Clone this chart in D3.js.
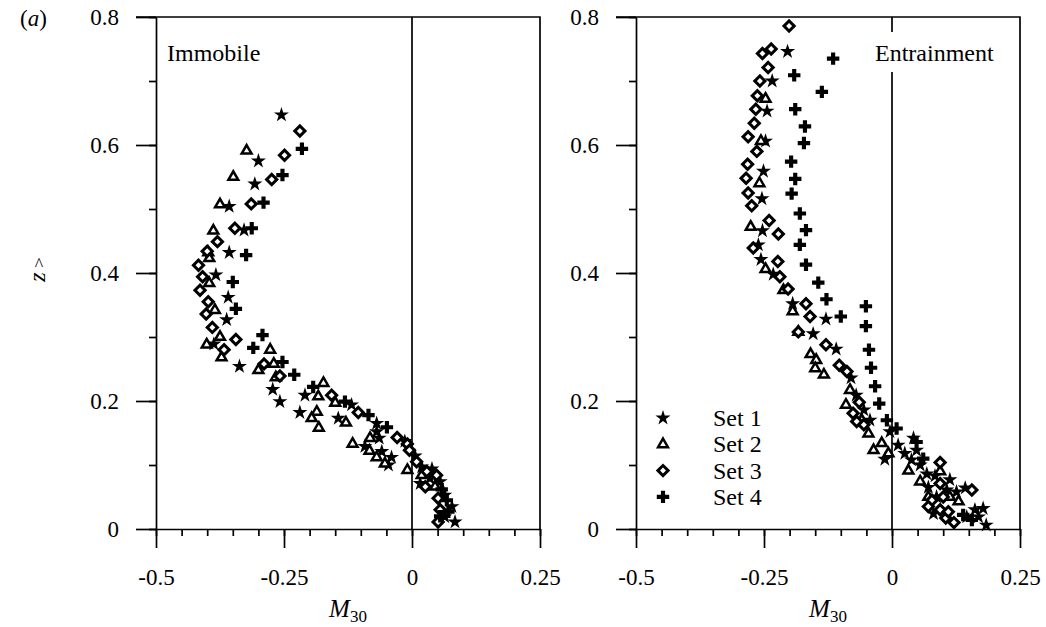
<!DOCTYPE html>
<meta charset="utf-8">
<style>

body {
  margin: 0;
  background: #fff;
}

text {
  font-family: "Liberation Serif", "Times New Roman", serif;
  fill: #000;
}

.axis path, .axis line {
  stroke: #000;
  stroke-width: 1.7px;
}

.frame {
  stroke: #000;
  stroke-width: 1.7px;
  fill: none;
}

</style>
<svg width=1046 height=627></svg>
<script src='https://cdn.jsdelivr.net/npm/d3@7/dist/d3.min.js'></script>
<script>

// x = M30, y = z-hat
const immobileSet1 = [[-0.255,0.647],[-0.300,0.575],[-0.307,0.539],[-0.357,0.504],[-0.328,0.467],[-0.357,0.432],[-0.383,0.397],[-0.359,0.362],[-0.362,0.327],[-0.387,0.289],[-0.337,0.254],[-0.272,0.218],[-0.258,0.199],[-0.209,0.209],[-0.219,0.182],[-0.144,0.173],[-0.118,0.194],[-0.069,0.165],[-0.069,0.152],[-0.064,0.142],[-0.092,0.129],[-0.059,0.121],[-0.040,0.112],[-0.046,0.100],[-0.014,0.137],[0.006,0.114],[0.019,0.097],[0.039,0.094],[0.016,0.071],[0.035,0.079],[0.055,0.074],[0.064,0.053],[0.078,0.035],[0.064,0.019],[0.084,0.011]];
const immobileSet2 = [[-0.323,0.591],[-0.349,0.550],[-0.375,0.507],[-0.388,0.466],[-0.398,0.432],[-0.396,0.423],[-0.396,0.384],[-0.385,0.342],[-0.375,0.300],[-0.401,0.288],[-0.372,0.268],[-0.277,0.280],[-0.300,0.248],[-0.270,0.258],[-0.266,0.237],[-0.173,0.228],[-0.183,0.207],[-0.150,0.197],[-0.186,0.183],[-0.196,0.173],[-0.129,0.166],[-0.182,0.158],[-0.082,0.142],[-0.116,0.133],[-0.083,0.122],[-0.069,0.112],[-0.053,0.102],[-0.009,0.092],[0.019,0.084],[0.045,0.066]];
const immobileSet3 = [[-0.219,0.622],[-0.249,0.584],[-0.274,0.546],[-0.314,0.508],[-0.346,0.470],[-0.380,0.449],[-0.400,0.434],[-0.417,0.412],[-0.409,0.394],[-0.414,0.373],[-0.398,0.355],[-0.402,0.336],[-0.390,0.315],[-0.344,0.296],[-0.367,0.280],[-0.289,0.258],[-0.258,0.239],[-0.157,0.209],[-0.105,0.182],[-0.029,0.143],[-0.009,0.133],[-0.005,0.123],[0.009,0.105],[0.029,0.090],[0.048,0.084],[0.026,0.066],[0.051,0.048],[0.055,0.030],[0.051,0.011]];
const immobileSet4 = [[-0.215,0.594],[-0.253,0.553],[-0.290,0.510],[-0.313,0.470],[-0.324,0.428],[-0.350,0.386],[-0.344,0.344],[-0.292,0.303],[-0.310,0.283],[-0.253,0.261],[-0.230,0.241],[-0.193,0.222],[-0.131,0.199],[-0.085,0.178],[-0.049,0.159],[0.058,0.062],[0.068,0.045],[0.071,0.027],[0.055,0.020]];

const entrainSet1 = [[-0.204,0.746],[-0.234,0.700],[-0.244,0.653],[-0.247,0.606],[-0.251,0.559],[-0.254,0.516],[-0.253,0.466],[-0.261,0.444],[-0.256,0.421],[-0.232,0.398],[-0.194,0.352],[-0.129,0.328],[-0.154,0.305],[-0.109,0.281],[-0.080,0.236],[-0.070,0.209],[-0.055,0.186],[-0.043,0.170],[-0.004,0.152],[-0.014,0.109],[0.012,0.131],[0.042,0.142],[0.025,0.118],[0.048,0.123],[0.038,0.108],[0.055,0.100],[0.068,0.086],[0.084,0.083],[0.113,0.077],[0.071,0.065],[0.087,0.050],[0.107,0.061],[0.126,0.058],[0.143,0.064],[0.081,0.024],[0.146,0.019],[0.178,0.032],[0.169,0.019],[0.184,0.006],[0.162,0.030]];
const entrainSet2 = [[-0.247,0.672],[-0.256,0.606],[-0.259,0.540],[-0.276,0.472],[-0.247,0.406],[-0.212,0.373],[-0.194,0.340],[-0.183,0.308],[-0.159,0.273],[-0.148,0.264],[-0.150,0.251],[-0.133,0.241],[-0.082,0.217],[-0.090,0.194],[-0.059,0.170],[-0.046,0.149],[-0.036,0.123],[-0.020,0.134],[-0.007,0.118],[0.032,0.091],[0.055,0.074],[0.094,0.090],[0.071,0.050],[0.113,0.050],[0.130,0.043]];
const entrainSet3 = [[-0.201,0.786],[-0.236,0.750],[-0.253,0.743],[-0.242,0.721],[-0.258,0.700],[-0.263,0.677],[-0.266,0.656],[-0.269,0.634],[-0.281,0.613],[-0.264,0.590],[-0.282,0.570],[-0.285,0.548],[-0.281,0.525],[-0.274,0.505],[-0.240,0.482],[-0.222,0.461],[-0.271,0.439],[-0.223,0.418],[-0.219,0.394],[-0.203,0.375],[-0.168,0.352],[-0.160,0.332],[-0.183,0.308],[-0.129,0.288],[-0.103,0.256],[-0.088,0.246],[-0.064,0.198],[-0.076,0.181],[-0.069,0.168],[-0.055,0.163],[0.094,0.104],[0.094,0.071],[0.078,0.045],[0.156,0.061],[0.071,0.035],[0.094,0.030],[0.105,0.017],[0.121,0.010],[0.110,0.027],[0.100,0.050]];
const entrainSet4 = [[-0.115,0.735],[-0.191,0.709],[-0.137,0.683],[-0.189,0.656],[-0.170,0.629],[-0.172,0.603],[-0.197,0.574],[-0.189,0.547],[-0.196,0.524],[-0.180,0.493],[-0.168,0.467],[-0.180,0.444],[-0.168,0.413],[-0.144,0.385],[-0.128,0.359],[-0.100,0.332],[-0.051,0.348],[-0.051,0.317],[-0.045,0.280],[-0.041,0.252],[-0.033,0.223],[-0.025,0.196],[-0.010,0.170],[0.009,0.157],[0.048,0.136],[0.061,0.110],[0.139,0.022],[0.156,0.014]];

const setNames = ["Set 1", "Set 2", "Set 3", "Set 4"];
const xMajorTicks = [-0.5, -0.25, 0, 0.25];
const xTickLabels = ["-0.5", "-0.25", "0", "0.25"];
const yMajorTicks = [0, 0.2, 0.4, 0.6, 0.8];
const yTickLabels = ["0", "0.2", "0.4", "0.6", "0.8"];
const xMinorTicks = d3.range(-0.5, 0.2501, 0.05);
const yMinorTicks = d3.range(0, 0.8001, 0.1);

const plotTop = 17, plotBottom = 529;
const serif = '"Liberation Serif", "Times New Roman", serif';
const panels = [
  {left: 156, right: 540, label: "Immobile", labelX: 167, sets: [immobileSet1, immobileSet2, immobileSet3, immobileSet4]},
  {left: 636, right: 1020, label: "Entrainment", labelX: 875, sets: [entrainSet1, entrainSet2, entrainSet3, entrainSet4], legend: true}
];

const svg = d3.select("svg");

// marker shapes: star, open triangle, open diamond, filled cross
const markers = [
  {path: d3.symbol().type(d3.symbolStar).size(70)(), fill: "#000", stroke: "none", sw: 0, rot: 0},
  {path: d3.symbol().type(d3.symbolTriangle).size(42)(), fill: "#fff", stroke: "#000", sw: 2.5, rot: 0},
  {path: d3.symbol().type(d3.symbolSquare).size(52)(), fill: "#fff", stroke: "#000", sw: 3, rot: 45},
  {path: d3.symbol().type(d3.symbolCross).size(86)(), fill: "#000", stroke: "none", sw: 0, rot: 0}
];

function drawMarker(g, i, x, y) {
  const m = markers[i];
  g.append("path")
    .attr("d", m.path)
    .attr("transform", "translate(" + x + "," + y + ") rotate(" + m.rot + ")")
    .attr("fill", m.fill)
    .attr("stroke", m.stroke)
    .attr("stroke-width", m.sw)
    .attr("stroke-linejoin", "miter");
}

panels.forEach(p => {
  const x = d3.scaleLinear().domain([-0.5, 0.25]).range([p.left, p.right]);
  const y = d3.scaleLinear().domain([0, 0.8]).range([plotBottom, plotTop]);
  const g = svg.append("g");

  // minor ticks
  g.append("g").attr("class", "axis")
    .attr("transform", "translate(0," + plotBottom + ")")
    .call(d3.axisBottom(x).tickValues(xMinorTicks).tickSize(7).tickSizeOuter(0).tickFormat(""))
    .select(".domain").remove();
  g.append("g").attr("class", "axis")
    .attr("transform", "translate(" + p.left + ",0)")
    .call(d3.axisLeft(y).tickValues(yMinorTicks).tickSize(7).tickSizeOuter(0).tickFormat(""))
    .select(".domain").remove();

  // major ticks
  const xa = g.append("g").attr("class", "axis")
    .attr("transform", "translate(0," + plotBottom + ")")
    .call(d3.axisBottom(x).tickValues(xMajorTicks).tickSize(19).tickSizeOuter(0)
      .tickFormat((d, i) => xTickLabels[i]));
  xa.selectAll("text").attr("y", 0).attr("dy", 0)
    .attr("transform", "translate(0,56)");
  const ya = g.append("g").attr("class", "axis")
    .attr("transform", "translate(" + p.left + ",0)")
    .call(d3.axisLeft(y).tickValues(yMajorTicks).tickSize(20).tickSizeOuter(0)
      .tickFormat((d, i) => yTickLabels[i]));
  ya.selectAll("text").attr("x", -37).attr("dy", "0.34em");
  g.selectAll(".axis").attr("font-family", serif).attr("font-size", 23);
  g.selectAll(".axis text").attr("fill", "#000").style("font-family", serif).style("font-size", "23px");

  // frame: top and right
  g.append("path").attr("class", "frame")
    .attr("d", "M" + (p.left - 20) + "," + plotTop + "H" + p.right + "V" + plotBottom);

  // zero line
  g.append("line").attr("class", "frame")
    .attr("x1", x(0)).attr("x2", x(0)).attr("y1", plotTop).attr("y2", plotBottom);

  // data
  p.sets.forEach((set, i) => {
    set.forEach(d => drawMarker(g, i, x(d[0]), y(d[1])));
  });

  // panel label, boxed in white where it crosses the zero line
  const lbl = g.append("text")
    .attr("x", p.labelX).attr("y", 61)
    .style("font-size", "24px")
    .text(p.label);
  if (p.legend) {
    const bb = lbl.node().getBBox();
    g.insert("rect", () => lbl.node())
      .attr("x", bb.x - 4).attr("y", 32)
      .attr("width", bb.width + 8).attr("height", 40)
      .attr("fill", "#fff");
  }

  // x title
  const xt = g.append("text")
    .attr("x", (p.left + p.right) / 2).attr("y", 617)
    .attr("text-anchor", "middle");
  xt.append("tspan").style("font-style", "italic").style("font-size", "25px").text("M");
  xt.append("tspan").style("font-size", "17px").attr("dy", 5).text("30");

  if (p.legend) {
    setNames.forEach((name, i) => {
      const ly = 418 + i * 26.3;
      drawMarker(g, i, 663, ly);
      g.append("text")
        .attr("x", 713).attr("y", ly).attr("dy", "0.34em")
        .style("font-size", "24px")
        .text(name);
    });
  }
});

// panel tag
const tag = svg.append("text").attr("x", 20).attr("y", 26).style("font-size", "23px");
tag.append("tspan").text("(");
tag.append("tspan").style("font-style", "italic").text("a");
tag.append("tspan").text(")");

// y title: rotated z with a hat mark above it
svg.append("text")
  .attr("transform", "translate(38,277) rotate(-90)")
  .attr("text-anchor", "middle").attr("dy", "0.3em")
  .style("font-style", "italic").style("font-size", "24px").text("z");
svg.append("text")
  .attr("x", 39).attr("y", 271)
  .attr("text-anchor", "middle")
  .style("font-size", "18px").text("^");

</script>
